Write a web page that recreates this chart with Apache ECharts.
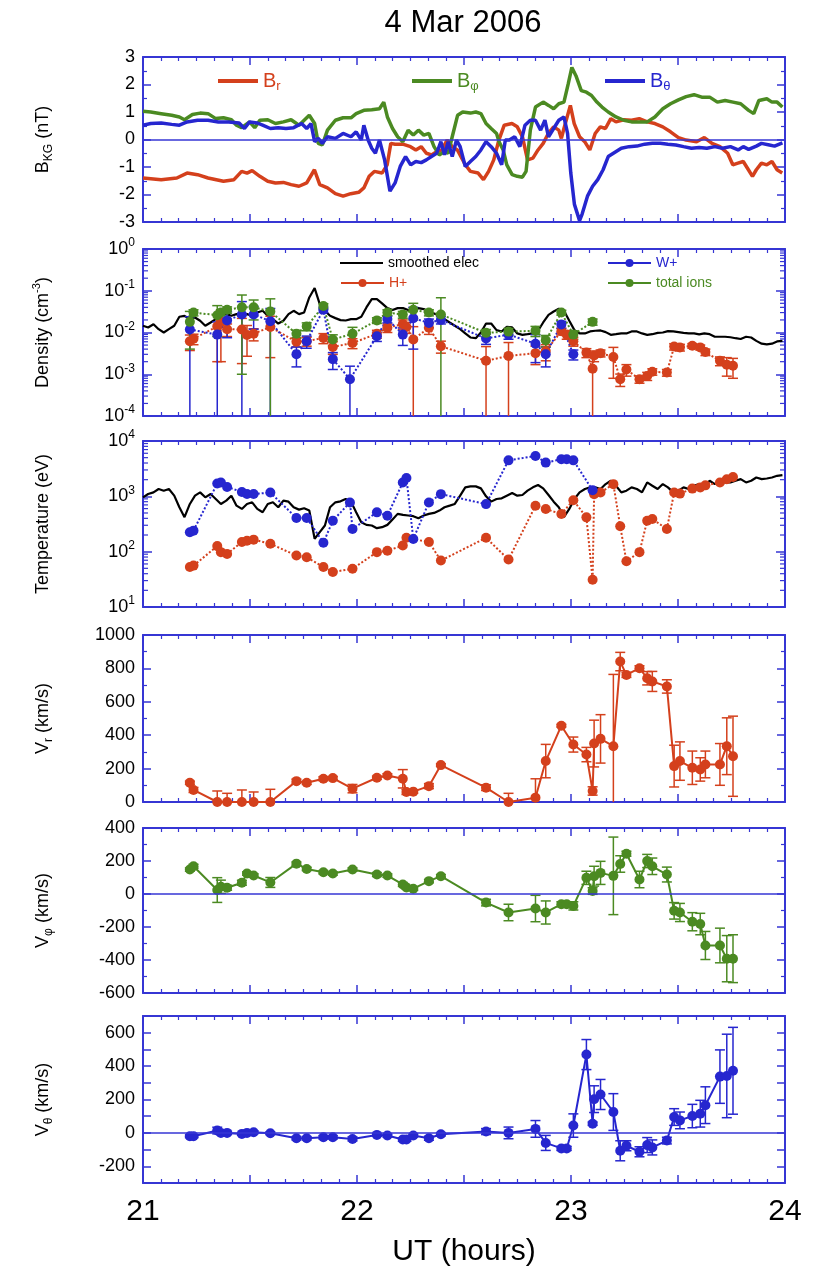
<!DOCTYPE html>
<html>
<head>
<meta charset="utf-8">
<title>4 Mar 2006</title>
<script src="https://cdn.jsdelivr.net/npm/echarts@6/dist/echarts.min.js"></script>
<style>
  html, body { margin: 0; padding: 0; background: #fff; }
  #chart { width: 814px; height: 1274px; }
</style>
</head>
<body>
<div id="chart"></div>
<script>
// ---------------- magnetic field (KG frame), [UT hours, nT] ----------------
const bR = [[21.000,-1.40],[21.085,-1.46],[21.158,-1.40],[21.206,-1.22],[21.255,-1.28],[21.304,-1.40],[21.376,-1.52],[21.425,-1.46],[21.461,-1.16],[21.486,-1.22],[21.510,-1.13],[21.546,-1.34],[21.583,-1.52],[21.619,-1.58],[21.656,-1.56],[21.692,-1.64],[21.729,-1.70],[21.765,-1.58],[21.801,-1.10],[21.826,-1.64],[21.862,-1.76],[21.899,-1.97],[21.935,-2.06],[21.971,-1.97],[22.008,-1.92],[22.032,-1.76],[22.057,-1.34],[22.081,-1.16],[22.117,-1.22],[22.141,-0.92],[22.158,-0.14],[22.178,-0.17],[22.214,-0.17],[22.250,-0.26],[22.275,-0.38],[22.300,-0.26],[22.324,-0.50],[22.348,-0.56],[22.372,-0.44],[22.396,-0.38],[22.421,-0.02],[22.445,-0.26],[22.469,-0.38],[22.506,-0.92],[22.530,-1.16],[22.566,-1.22],[22.591,-1.46],[22.615,-1.16],[22.639,-0.74],[22.663,-0.02],[22.688,0.52],[22.724,0.58],[22.749,0.46],[22.773,0.10],[22.797,-0.74],[22.822,-0.68],[22.846,-0.38],[22.870,-0.14],[22.894,0.22],[22.919,0.46],[22.943,0.34],[22.955,0.04],[22.967,0.40],[22.997,1.24],[23.015,0.58],[23.040,0.10],[23.064,-0.08],[23.088,-0.38],[23.113,0.22],[23.137,0.46],[23.161,0.40],[23.186,0.76],[23.210,0.64],[23.246,0.72],[23.283,0.70],[23.319,0.76],[23.356,0.64],[23.392,0.58],[23.429,0.46],[23.465,0.28],[23.502,0.07],[23.538,-0.02],[23.587,-0.08],[23.623,0.07],[23.659,-0.14],[23.696,-0.26],[23.732,-0.50],[23.756,-0.92],[23.780,-0.86],[23.805,-0.80],[23.829,-1.10],[23.848,-1.34],[23.866,-1.10],[23.890,-0.86],[23.915,-0.92],[23.939,-0.80],[23.963,-1.10],[23.987,-1.22]];

const bPhi = [[21.000,1.03],[21.036,1.00],[21.085,0.94],[21.134,0.88],[21.170,0.82],[21.194,0.72],[21.231,0.91],[21.267,0.96],[21.304,0.94],[21.340,0.76],[21.376,0.79],[21.413,0.72],[21.437,0.52],[21.461,0.43],[21.498,0.64],[21.522,0.43],[21.546,0.70],[21.583,0.72],[21.619,0.58],[21.656,0.64],[21.692,0.72],[21.729,0.52],[21.753,0.70],[21.777,0.88],[21.802,0.58],[21.819,-0.14],[21.838,-0.20],[21.862,0.34],[21.899,0.70],[21.935,0.79],[21.972,0.79],[21.996,0.94],[22.032,1.06],[22.069,1.08],[22.105,1.12],[22.125,1.36],[22.142,0.82],[22.166,0.40],[22.190,0.10],[22.214,-0.08],[22.239,0.34],[22.263,0.16],[22.287,0.34],[22.312,0.16],[22.336,0.22],[22.360,-0.26],[22.384,-0.56],[22.409,-0.44],[22.426,-0.50],[22.445,0.10],[22.470,0.88],[22.494,1.00],[22.530,0.96],[22.555,1.00],[22.579,0.94],[22.603,0.58],[22.627,0.40],[22.652,0.22],[22.664,-0.08],[22.683,-0.38],[22.700,-0.92],[22.725,-1.28],[22.749,-1.34],[22.773,-1.37],[22.790,-1.16],[22.810,0.34],[22.834,1.18],[22.870,1.36],[22.895,1.24],[22.919,1.12],[22.943,1.30],[22.967,1.36],[22.987,2.02],[23.004,2.62],[23.023,2.32],[23.048,1.78],[23.072,1.72],[23.096,1.60],[23.121,1.36],[23.145,1.18],[23.174,1.00],[23.210,0.82],[23.247,0.70],[23.283,0.64],[23.320,0.64],[23.356,0.64],[23.392,0.82],[23.429,1.12],[23.465,1.30],[23.502,1.44],[23.538,1.56],[23.575,1.63],[23.611,1.54],[23.648,1.54],[23.684,1.36],[23.720,1.42],[23.757,1.36],[23.793,1.30],[23.830,1.06],[23.854,0.94],[23.878,1.42],[23.915,1.48],[23.939,1.36],[23.963,1.36],[23.988,1.18]];

const bTheta = [[21.000,0.52],[21.036,0.58],[21.085,0.60],[21.134,0.55],[21.170,0.52],[21.206,0.64],[21.255,0.70],[21.304,0.70],[21.352,0.64],[21.401,0.64],[21.449,0.60],[21.474,0.40],[21.498,0.64],[21.534,0.60],[21.559,0.52],[21.595,0.40],[21.632,0.43],[21.668,0.40],[21.704,0.43],[21.741,0.58],[21.765,0.40],[21.785,0.58],[21.802,-0.08],[21.819,0.04],[21.838,-0.14],[21.862,0.10],[21.899,0.04],[21.935,0.22],[21.972,0.10],[21.996,0.28],[22.020,-0.02],[22.032,0.52],[22.052,-0.02],[22.069,-0.32],[22.086,-0.50],[22.105,-0.02],[22.129,-0.74],[22.154,-1.88],[22.178,-1.58],[22.202,-0.98],[22.227,-0.62],[22.251,-0.92],[22.275,-0.80],[22.300,-0.84],[22.324,-0.74],[22.348,-0.62],[22.372,-0.50],[22.392,-0.08],[22.409,-0.56],[22.426,-0.08],[22.445,-0.62],[22.465,-0.02],[22.482,-0.26],[22.506,-0.98],[22.530,-0.80],[22.555,-0.62],[22.579,-0.38],[22.603,-0.08],[22.627,-0.26],[22.652,-0.50],[22.676,-0.92],[22.693,-0.02],[22.712,-0.02],[22.737,0.10],[22.761,-0.26],[22.785,0.52],[22.810,0.70],[22.834,0.70],[22.858,0.34],[22.878,0.70],[22.895,0.10],[22.919,0.40],[22.943,0.70],[22.967,0.82],[22.984,0.22],[22.999,-1.22],[23.016,-2.36],[23.040,-2.95],[23.052,-2.71],[23.077,-2.06],[23.101,-1.70],[23.125,-1.46],[23.150,-1.10],[23.174,-0.62],[23.198,-0.50],[23.235,-0.32],[23.271,-0.26],[23.308,-0.24],[23.344,-0.17],[23.380,-0.14],[23.417,-0.14],[23.453,-0.17],[23.490,-0.20],[23.526,-0.26],[23.563,-0.32],[23.599,-0.29],[23.635,-0.32],[23.672,-0.26],[23.708,-0.32],[23.745,-0.26],[23.781,-0.38],[23.805,-0.26],[23.830,-0.36],[23.866,-0.24],[23.890,-0.14],[23.927,-0.20],[23.951,-0.24],[23.988,-0.12]];

// ---------------- smoothed electron moments (regular sampling) ----------------
const elecTimes = [21.000,21.024,21.049,21.073,21.097,21.121,21.146,21.170,21.194,21.219,21.243,21.267,21.291,21.316,21.340,21.364,21.389,21.413,21.437,21.462,21.486,21.510,21.534,21.559,21.583,21.607,21.632,21.656,21.680,21.704,21.729,21.753,21.777,21.802,21.826,21.850,21.874,21.899,21.923,21.947,21.972,21.996,22.020,22.044,22.069,22.093,22.117,22.142,22.166,22.190,22.215,22.239,22.263,22.287,22.312,22.336,22.360,22.385,22.409,22.433,22.457,22.482,22.506,22.530,22.555,22.579,22.603,22.627,22.652,22.676,22.700,22.725,22.749,22.773,22.797,22.822,22.846,22.870,22.895,22.919,22.943,22.967,22.992,23.016,23.040,23.065,23.089,23.113,23.138,23.162,23.186,23.210,23.235,23.259,23.283,23.308,23.332,23.356,23.380,23.405,23.429,23.453,23.478,23.502,23.526,23.550,23.575,23.599,23.623,23.648,23.672,23.696,23.720,23.745,23.769,23.793,23.818,23.842,23.866,23.891,23.915,23.939,23.963,23.988];

// electron density, cm^-3
const elecDensity = [0.0145,0.0132,0.0158,0.0120,0.0100,0.0120,0.0145,0.0238,0.0251,0.0209,
  0.0229,0.0191,0.0145,0.0174,0.0209,0.0275,0.0275,0.0251,0.0275,0.0251,
  0.0275,0.0251,0.0302,0.0331,0.0251,0.0209,0.0164,0.0191,0.0275,0.0331,
  0.0275,0.0302,0.0692,0.116,0.0479,0.0331,0.0251,0.0221,0.0198,0.0194,
  0.0209,0.0209,0.0238,0.0398,0.0631,0.0631,0.0497,0.0384,0.0344,0.0384,
  0.0384,0.0344,0.0344,0.0384,0.0363,0.0319,0.0286,0.0251,0.0209,0.0174,
  0.0145,0.0120,0.0095,0.0076,0.0073,0.0100,0.0164,0.0164,0.0114,0.0106,
  0.0137,0.0132,0.0095,0.0088,0.0091,0.0095,0.0110,0.0174,0.0265,0.0319,
  0.0370,0.0331,0.0191,0.0114,0.0095,0.0095,0.0106,0.0110,0.0112,0.0102,
  0.0088,0.0091,0.0095,0.0095,0.0106,0.0106,0.0095,0.0088,0.0091,0.0098,
  0.0100,0.0108,0.0106,0.0102,0.0098,0.0095,0.0095,0.0090,0.0095,0.0091,
  0.0079,0.0079,0.0079,0.0077,0.0073,0.0070,0.0079,0.0076,0.0063,0.0054,
  0.0052,0.0054,0.0061,0.0063];

// electron temperature, eV
const elecTemp = [960,1102,1181,1355,1265,1355,1028,634,420,728,
  1028,1181,960,1102,896,728,836,1028,679,592,
  728,780,592,516,728,780,634,836,802,634,
  575,608,553,171,226,297,634,780,813,896,
  802,516,341,305,297,266,277,305,381,482,
  462,450,438,403,450,482,502,553,634,679,
  728,1028,1452,1514,1514,1393,1000,802,896,921,
  1028,1149,1028,1057,1265,1452,1600,1393,1057,802,
  634,420,592,896,1181,1355,1452,1452,1355,1667,
  1911,1556,1181,1265,1452,1355,1181,1784,1556,1355,
  1667,1452,1181,1265,1452,1355,1556,1667,1556,1911,
  1667,1834,1784,1784,1911,2047,1784,1911,2193,2047,
  2101,2193,2350,2415];

// ---------------- ion moments at the ion sampling times ----------------
const ionTimes = [21.219,21.236,21.347,21.364,21.393,21.462,21.486,21.517,21.595,21.717,
  21.765,21.843,21.887,21.967,21.979,22.093,22.142,22.214,22.231,22.263,
  22.336,22.392,22.603,22.708,22.834,22.882,22.955,22.980,23.011,23.072,
  23.101,23.108,23.138,23.198,23.230,23.259,23.320,23.356,23.380,23.448,
  23.482,23.509,23.567,23.604,23.628,23.696,23.728,23.757];

// densities, cm^-3, with 1-sigma errors
const densH = [6.2e-3,7.1e-3,1.4e-2,1.8e-2,1.2e-2,1.18e-2,8.7e-3,9.3e-3,1.35e-2,6.0e-3,
  6.2e-3,7.4e-3,4.5e-3,null,5.6e-3,9.3e-3,1.3e-2,1.6e-2,1.35e-2,6.8e-3,
  1.3e-2,4.7e-3,2.1e-3,2.75e-3,3.2e-3,3.6e-3,1.07e-2,8.9e-3,6.2e-3,3.3e-3,
  1.35e-3,2.8e-3,3.2e-3,2.6e-3,7.6e-4,1.3e-3,7.6e-4,9.1e-4,1.15e-3,1.1e-3,
  4.6e-3,4.4e-3,4.8e-3,4.4e-3,3.4e-3,2.1e-3,1.7e-3,1.6e-3];
const densHErr = [2.5e-3,2e-3,1.2e-2,1.6e-2,4e-3,1.0e-2,6e-3,3e-3,1.1e-2,1.5e-3,
  1.5e-3,2e-3,1.5e-3,null,1.5e-3,2e-3,3e-3,4e-3,4e-3,7e-3,
  4e-3,1.5e-3,2.5e-3,3e-3,1.5e-3,1.5e-3,2e-3,2e-3,1.5e-3,8e-4,
  1.5e-3,8e-4,6e-4,1.8e-3,2.5e-4,4e-4,1.5e-4,2e-4,2e-4,2e-4,
  8e-4,8e-4,6e-4,6e-4,6e-4,5e-4,8e-4,8e-4];
const densW = [1.18e-2,null,8.9e-3,null,1.95e-2,2.7e-2,null,2.7e-2,1.86e-2,3.0e-3,
  6.2e-3,3.5e-2,2.3e-3,7.6e-4,null,8.1e-3,2.1e-2,8.9e-3,null,2.2e-2,
  1.7e-2,2.0e-2,7.2e-3,8.9e-3,5.4e-3,3.0e-3,1.55e-2,null,3.0e-3];
const densWErr = [1.2e-2,null,9e-3,null,1.2e-2,2.8e-2,null,1.5e-2,1.9e-2,1.5e-3,
  2e-3,5e-3,1e-3,8e-4,null,2e-3,4e-3,4e-3,null,1.8e-2,
  4e-3,4e-3,2e-3,2e-3,3.5e-3,1.5e-3,3e-3,null,8e-4];
const densTot = [1.8e-2,3.0e-2,2.6e-2,3.0e-2,3.5e-2,4.0e-2,null,4.0e-2,3.2e-2,9.3e-3,
  1.4e-2,4.3e-2,6.8e-3,null,9.3e-3,1.95e-2,3.0e-2,2.7e-2,null,3.5e-2,
  3.0e-2,2.7e-2,9.8e-3,1.05e-2,1.1e-2,6.5e-3,3.0e-2,null,8.9e-3,null,
  1.8e-2];
const densTotErr = [1.4e-2,5e-3,1.8e-2,5e-3,6e-3,3.9e-2,null,2e-2,3.2e-2,2e-3,
  3e-3,6e-3,2e-3,null,4e-3,3e-3,5e-3,5e-3,null,1.5e-2,
  5e-3,4.1e-2,2e-3,2e-3,3e-3,2e-3,4e-3,null,2e-3,null,
  3e-3];

// temperatures, eV
const tempH = [53,56,126,98,91,150,158,165,139,85,
  79,53,43,null,49,98,104,129,178,null,
  149,69,178,72,676,589,479,null,851,417,
  31,1096,1170,1660,288,67,98,363,389,257,
  1170,1120,1380,1450,1580,1780,2040,2240];
const tempW = [224,240,1700,1780,1480,1200,1100,1100,1170,407,
  407,145,363,776,257,513,447,1780,2140,170,
  776,1096,724,4470,5370,4070,4680,4680,4470,null,
  1290];

// H+ velocity components, km/s, with errors
const vR = [115,72,0,null,0,0,null,0,0,125,
  115,139,143,null,80,145,159,139,60,62,
  95,221,86,0,26,245,457,null,344,284,
  66,350,378,334,841,761,801,741,722,692,
  215,245,205,195,225,225,334,274];
const vRErr = [10,15,66,null,52,72,null,60,76,12,
  10,12,10,null,25,10,10,55,15,10,
  15,8,17,52,113,100,8,null,45,43,
  25,140,145,430,55,15,15,40,60,40,
  125,115,100,70,80,125,170,240];
const vPhi = [148,168,24,44,38,68,124,112,70,184,
  152,132,124,null,148,118,112,58,40,32,
  78,108,-52,-112,-88,-112,-62,-62,-72,98,
  18,108,128,110,182,244,88,200,168,118,
  -102,-112,-168,-182,-312,-312,-392,-392];
const vPhiErr = [10,12,75,40,15,15,10,10,30,10,
  10,10,10,null,10,12,10,12,10,10,
  10,10,20,50,80,70,15,15,25,40,
  20,60,70,235,50,15,50,40,50,45,
  50,55,55,65,85,105,140,145];
const vTheta = [-20,-20,14,0,0,-6,0,4,-2,-32,
  -32,-26,-26,null,-36,-12,-16,-40,-40,-16,
  -32,-8,8,0,24,-60,-93,-93,44,469,
  55,202,230,125,-107,-77,-113,-73,-87,-46,
  95,75,101,115,166,337,341,372];
const vThetaErr = [8,8,20,10,10,8,8,8,8,10,
  10,10,10,null,12,8,8,10,10,8,
  12,10,18,35,50,45,12,12,70,90,
  10,80,90,110,60,30,30,45,45,20,
  50,50,70,80,110,160,250,260];

// ---------------- styling ----------------
const RED = '#d4401c';
const GREEN = '#4b8a22';
const BLUE = '#2626cf';
const AXIS = '#3636d4';
const FONT = '"Liberation Sans", Arial, Helvetica, sans-serif';

const PANELS = [
  { top: 57,   height: 165 },
  { top: 249,  height: 167 },
  { top: 441,  height: 166 },
  { top: 635,  height: 167 },
  { top: 828,  height: 165 },
  { top: 1016, height: 167 }
];

function isNum(v) { return v !== null && v !== undefined; }
function pairs(times, vals) {
  const out = [];
  times.forEach((t, i) => { if (isNum(vals[i])) out.push([t, vals[i]]); });
  return out;
}
function errRows(times, vals, errs, floor) {
  const out = [];
  times.forEach((t, i) => {
    if (!isNum(vals[i]) || !isNum(errs[i])) return;
    let lo = vals[i] - errs[i];
    if (floor !== undefined) lo = Math.max(lo, floor);
    out.push([t, lo, vals[i] + errs[i]]);
  });
  return out;
}

function axisLine() { return { show: true, onZero: false, lineStyle: { color: AXIS, width: 2 } }; }
function majorTick(len) { return { show: true, inside: true, length: len || 8, lineStyle: { color: AXIS, width: 1.5 } }; }

const nameRich = {
  a: { fontSize: 18, lineHeight: 24, color: '#000', fontFamily: FONT },
  s: { fontSize: 12, lineHeight: 10, verticalAlign: 'bottom', color: '#000', fontFamily: FONT },
  p: { fontSize: 11, lineHeight: 10, verticalAlign: 'top', color: '#000', fontFamily: FONT }
};
const expRich = {
  b: { fontSize: 18, lineHeight: 24, color: '#000', fontFamily: FONT },
  e: { fontSize: 12, lineHeight: 10, verticalAlign: 'top', color: '#000', fontFamily: FONT }
};

// x axes: bottom + mirrored top for each panel
const xAxis = [];
PANELS.forEach((p, gi) => {
  const last = gi === PANELS.length - 1;
  ['bottom', 'top'].forEach(pos => {
    const ax = {
      type: 'value', gridIndex: gi, position: pos, min: 21, max: 24, interval: 0.5,
      axisLine: axisLine(), axisTick: majorTick(8),
      minorTick: { show: true, splitNumber: 6, length: 4, lineStyle: { color: AXIS, width: 1.2 } },
      splitLine: { show: false }, minorSplitLine: { show: false },
      axisLabel: { show: false }
    };
    if (last && pos === 'bottom') {
      ax.axisLabel = {
        show: true, color: '#000', fontSize: 30, fontFamily: FONT, margin: 14,
        formatter: v => (Math.abs(v - Math.round(v)) < 1e-9 ? String(Math.round(v)) : '')
      };
      ax.name = 'UT (hours)';
      ax.nameLocation = 'middle';
      ax.nameGap = 54;
      ax.nameTextStyle = { fontSize: 30, color: '#000', fontFamily: FONT };
    }
    xAxis.push(ax);
  });
});

const yAxis = [];
const dataY = [];   // y axis index that carries each panel's data

function linearPanel(gi, min, max, interval, minorSplit, name, fmt) {
  dataY[gi] = yAxis.length;
  ['left', 'right'].forEach(pos => {
    const ax = {
      type: 'value', gridIndex: gi, position: pos, min, max, interval,
      axisLine: axisLine(), axisTick: majorTick(8),
      minorTick: { show: minorSplit > 0, splitNumber: minorSplit || 2, length: 4, lineStyle: { color: AXIS, width: 1.2 } },
      splitLine: { show: false }, minorSplitLine: { show: false },
      axisLabel: { show: false }
    };
    if (pos === 'left') {
      ax.axisLabel = { show: true, color: '#000', fontSize: 18, fontFamily: FONT, margin: 8,
        formatter: fmt || (v => String(Math.round(v * 100) / 100)) };
      ax.name = name;
      ax.nameLocation = 'middle';
      ax.nameGap = 88;
      ax.nameTextStyle = { color: '#000', fontSize: 18, fontFamily: FONT, rich: nameRich };
    }
    yAxis.push(ax);
  });
}

const logMinor = [];   // [gridIndex, minExp, maxExp] for the 2..9 decade sub-ticks
function logPanel(gi, minExp, maxExp, name) {
  dataY[gi] = yAxis.length;
  ['left', 'right'].forEach(pos => {
    const ax = {
      type: 'log', logBase: 10, gridIndex: gi, position: pos,
      min: Math.pow(10, minExp), max: Math.pow(10, maxExp),
      axisLine: axisLine(), axisTick: majorTick(9),
      splitLine: { show: false }, minorSplitLine: { show: false },
      axisLabel: { show: false }
    };
    if (pos === 'left') {
      ax.axisLabel = {
        show: true, margin: 8, fontFamily: FONT,
        formatter: v => '{b|10}{e|' + Math.round(Math.log10(v)) + '}',
        rich: expRich
      };
      ax.name = name;
      ax.nameLocation = 'middle';
      ax.nameGap = 88;
      ax.nameTextStyle = { color: '#000', fontSize: 18, fontFamily: FONT, rich: nameRich };
    }
    yAxis.push(ax);
  });
  logMinor.push([gi, minExp, maxExp]);
}

linearPanel(0, -3, 3, 1, 2, '{a|B}{s|KG}{a| (nT)}');
logPanel(1, -4, 0, '{a|Density (cm}{p|-3}{a|)}');
logPanel(2, 1, 4, '{a|Temperature (eV)}');
linearPanel(3, 0, 1000, 200, 2, '{a|V}{s|r}{a| (km/s)}');
linearPanel(4, -600, 400, 200, 2, '{a|V}{s|\u03c6}{a| (km/s)}');
linearPanel(5, -300, 700, 100, 0, '{a|V}{s|\u03b8}{a| (km/s)}',
  v => (Math.round(v) % 200 === 0 ? String(Math.round(v)) : ''));

// ---------------- series builders ----------------
const zeroLine = {
  silent: true, symbol: ['none', 'none'], label: { show: false },
  lineStyle: { color: AXIS, width: 1.5, type: 'solid' },
  data: [{ yAxis: 0 }]
};

function trace(name, gi, data, color, width) {
  return {
    name, type: 'line', xAxisIndex: 2 * gi, yAxisIndex: dataY[gi], data,
    symbol: 'none', showSymbol: false, lineStyle: { color, width }, itemStyle: { color }, z: 2
  };
}
function points(name, gi, times, vals, color, dotted, size) {
  return {
    name, type: 'line', xAxisIndex: 2 * gi, yAxisIndex: dataY[gi], data: pairs(times, vals),
    symbol: 'circle', symbolSize: size || 10, showSymbol: true,
    lineStyle: { color, width: 2, type: dotted ? 'dotted' : 'solid' },
    itemStyle: { color }, z: 4
  };
}
function errorBars(name, gi, times, vals, errs, color, floor) {
  return {
    name, type: 'custom', xAxisIndex: 2 * gi, yAxisIndex: dataY[gi],
    data: errRows(times, vals, errs, floor), encode: { x: 0, y: [1, 2] }, silent: true, z: 3,
    renderItem: (params, api) => {
      const cs = params.coordSys;
      const t = api.value(0);
      const pHi = api.coord([t, api.value(2)]);
      const pLo = api.coord([t, api.value(1)]);
      const x = pHi[0];
      const top = cs.y, bottom = cs.y + cs.height;
      let y1 = pHi[1], y2 = pLo[1];
      const capHi = y1 >= top - 0.5, capLo = y2 <= bottom + 0.5;
      y1 = Math.max(y1, top); y2 = Math.min(y2, bottom);
      const st = { stroke: color, lineWidth: 1.5 };
      const children = [{ type: 'line', shape: { x1: x, y1, x2: x, y2 }, style: st }];
      if (capHi) children.push({ type: 'line', shape: { x1: x - 5, y1, x2: x + 5, y2: y1 }, style: st });
      if (capLo) children.push({ type: 'line', shape: { x1: x - 5, y1: y2, x2: x + 5, y2 }, style: st });
      return { type: 'group', children };
    }
  };
}
// sub-decade ticks (2..9 x 10^n) on both sides of a logarithmic panel
function logSubTicks(gi, minExp, maxExp) {
  const rows = [];
  for (let d = minExp; d < maxExp; d++) for (let k = 2; k <= 9; k++) rows.push([21, k * Math.pow(10, d)]);
  return {
    name: 'sub-decade ticks ' + gi, type: 'custom', xAxisIndex: 2 * gi, yAxisIndex: dataY[gi],
    data: rows, encode: { x: 0, y: 1 }, silent: true, z: 1,
    renderItem: (params, api) => {
      const cs = params.coordSys;
      const y = api.coord([21, api.value(1)])[1];
      const st = { stroke: AXIS, lineWidth: 1.2 };
      const l = cs.x, r = cs.x + cs.width;
      return { type: 'group', children: [
        { type: 'line', shape: { x1: l, y1: y, x2: l + 5, y2: y }, style: st },
        { type: 'line', shape: { x1: r - 5, y1: y, x2: r, y2: y }, style: st }
      ] };
    }
  };
}

const series = [];
// panel 1: magnetic field
const brSeries = trace('Br', 0, bR, RED, 3.5);
brSeries.markLine = zeroLine;
series.push(brSeries, trace('Bphi', 0, bPhi, GREEN, 3.5), trace('Btheta', 0, bTheta, BLUE, 3.5));
// panel 2: density
series.push(trace('smoothed elec', 1, elecTimes.map((t, i) => [t, elecDensity[i]]), '#000', 2.2));
series.push(errorBars('H+ density error', 1, ionTimes, densH, densHErr, RED, 1e-6));
series.push(points('H+', 1, ionTimes, densH, RED, true));
series.push(errorBars('W+ density error', 1, ionTimes, densW, densWErr, BLUE, 1e-6));
series.push(points('W+', 1, ionTimes, densW, BLUE, true));
series.push(errorBars('total density error', 1, ionTimes, densTot, densTotErr, GREEN, 1e-6));
series.push(points('total ions', 1, ionTimes, densTot, GREEN, true));
// panel 3: temperature
series.push(trace('electron temperature', 2, elecTimes.map((t, i) => [t, elecTemp[i]]), '#000', 2.2));
series.push(points('H+ temperature', 2, ionTimes, tempH, RED, true));
series.push(points('W+ temperature', 2, ionTimes, tempW, BLUE, true));
// panel 4-6: velocity components
series.push(errorBars('Vr error', 3, ionTimes, vR, vRErr, RED));
series.push(points('Vr', 3, ionTimes, vR, RED, false));
series.push(errorBars('Vphi error', 4, ionTimes, vPhi, vPhiErr, GREEN));
const vPhiSeries = points('Vphi', 4, ionTimes, vPhi, GREEN, false);
vPhiSeries.markLine = zeroLine;
series.push(vPhiSeries);
series.push(errorBars('Vtheta error', 5, ionTimes, vTheta, vThetaErr, BLUE));
const vThetaSeries = points('Vtheta', 5, ionTimes, vTheta, BLUE, false);
vThetaSeries.markLine = zeroLine;
series.push(vThetaSeries);
logMinor.forEach(m => series.push(logSubTicks(m[0], m[1], m[2])));

// ---------------- legends ----------------
function legendItem(name, left, top, label, color, size, icon, w, h) {
  const item = {
    data: [name], left, top, padding: 0, itemGap: 0, selectedMode: false,
    itemWidth: w, itemHeight: h,
    formatter: () => label,
    lineStyle: { type: 'solid', width: 2 },
    textStyle: {
      color, fontSize: size, fontFamily: FONT, padding: [0, 0, 0, 0],
      rich: {
        a: { fontSize: size, lineHeight: size + 4, color, fontFamily: FONT },
        s: { fontSize: Math.round(size * 0.65), lineHeight: 8, verticalAlign: 'bottom', color, fontFamily: FONT }
      }
    }
  };
  if (icon) item.icon = icon;
  return item;
}
const legend = [
  legendItem('Br', 218, 71, '{a|B}{s|r}', RED, 20, 'rect', 40, 4),
  legendItem('Bphi', 412, 71, '{a|B}{s|\u03c6}', GREEN, 20, 'rect', 40, 4),
  legendItem('Btheta', 605, 71, '{a|B}{s|\u03b8}', BLUE, 20, 'rect', 40, 4),
  legendItem('smoothed elec', 340, 256, '{a|smoothed elec}', '#000', 14, 'rect', 43, 2),
  legendItem('H+', 340, 276, '{a|H+}', RED, 14, null, 43, 10),
  legendItem('W+', 607, 256, '{a|W+}', BLUE, 14, null, 43, 10),
  legendItem('total ions', 607, 276, '{a|total ions}', GREEN, 14, null, 43, 10)
];

const option = {
  animation: false,
  backgroundColor: '#ffffff',
  textStyle: { fontFamily: FONT },
  grid: PANELS.map(p => ({ left: 143, right: 29, top: p.top, height: p.height })),
  xAxis, yAxis, series, legend,
  graphic: [{
    type: 'text', x: 463, y: 23,
    style: { text: '4 Mar 2006', fill: '#000', fontSize: 31, fontFamily: FONT, align: 'center', verticalAlign: 'middle' }
  }]
};

const chart = echarts.init(document.getElementById('chart'), null, { renderer: 'canvas' });
chart.setOption(option);
</script>
</body>
</html>
